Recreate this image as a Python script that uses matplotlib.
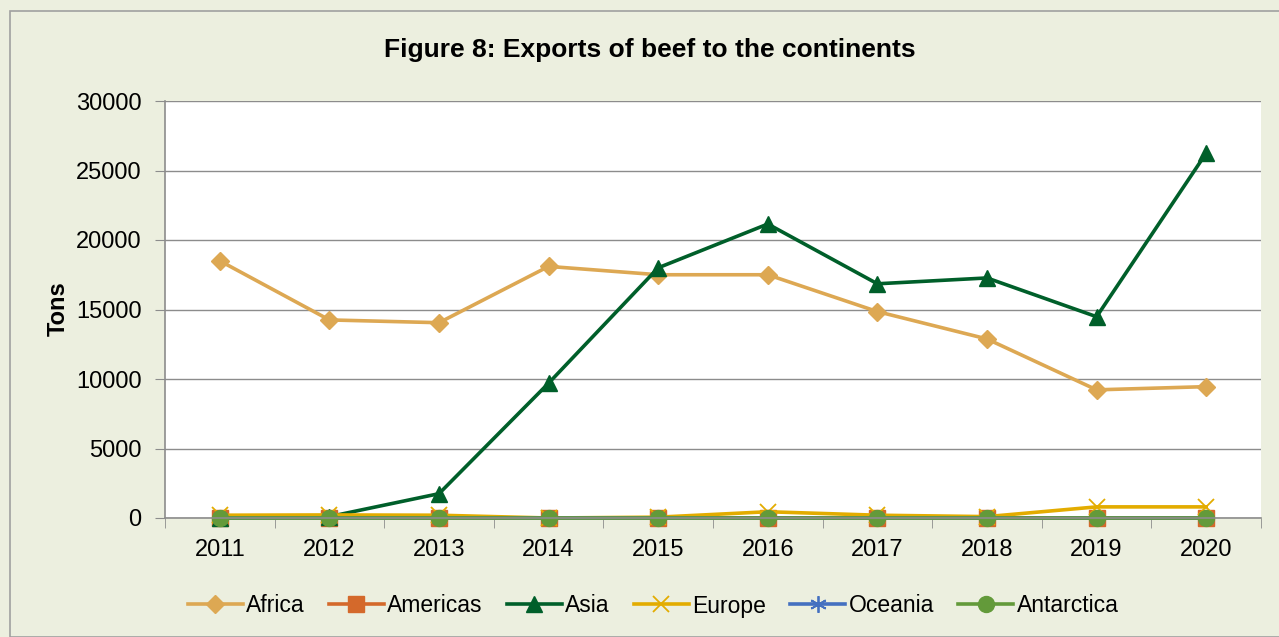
import matplotlib.pyplot as plt
from matplotlib.patches import Rectangle

plt.rcParams['font.family'] = ['Liberation Sans', 'DejaVu Sans']

years = ['2011', '2012', '2013', '2014', '2015', '2016', '2017', '2018', '2019', '2020']
africa = [18500, 14250, 14050, 18100, 17500, 17500, 14850, 12880, 9220, 9450]
americas = [0, 0, 0, 0, 0, 0, 0, 0, 0, 0]
asia = [0, 100, 1750, 9700, 18000, 21150, 16850, 17270, 14480, 26250]
europe = [200, 220, 200, 0, 60, 450, 200, 100, 800, 800]
oceania = [0, 0, 0, 0, 0, 0, 0, 0, 0, 0]
antarctica = [0, 0, 0, 0, 0, 0, 0, 0, 0, 0]

bg = '#ECEFDF'
fig = plt.figure(figsize=(12.79, 6.37), dpi=100)
fig.patch.set_facecolor(bg)
# outer chart border
fig.patches.append(Rectangle((10 / 1279, 0), 1.0, 1 - 11 / 637, transform=fig.transFigure,
                             fill=False, edgecolor='#A0A0A0', linewidth=1.2))

ax = fig.add_axes([165 / 1279, 1 - 518 / 637, (1261 - 165) / 1279, (518 - 101) / 637])
ax.set_facecolor('white')

x = list(range(len(years)))
series = [
    ('Africa', africa, '#DDA853', dict(marker='D', markersize=9)),
    ('Americas', americas, '#D4692B', dict(marker='s', markersize=12)),
    ('Asia', asia, '#005F2A', dict(marker='^', markersize=12)),
    ('Europe', europe, '#E3AC00', dict(marker='x', markersize=11, markeredgewidth=1.3)),
    ('Oceania', oceania, '#4470C0', dict(marker=(6, 2, 0), markersize=12, markeredgewidth=1.3)),
    ('Antarctica', antarctica, '#639A3A', dict(marker='o', markersize=11.5)),
]
for name, vals, col, mk in series:
    ax.plot(x, vals, color=col, linewidth=2.6, label=name, clip_on=False, **mk)

ax.set_xlim(-0.5, 9.5)
ax.set_ylim(0, 30000)
ax.set_yticks(range(0, 30001, 5000))
ax.yaxis.grid(True, color='#8C8C8C', linewidth=1)
ax.set_axisbelow(True)
ax.set_xticks(x)
ax.set_xticklabels(years)
ax.set_xticks([i - 0.5 for i in range(11)], minor=True)
ax.tick_params(axis='x', which='major', length=0, pad=15, labelsize=17)
ax.tick_params(axis='x', which='minor', length=7, color='#8C8C8C', direction='out')
ax.tick_params(axis='y', length=7, color='#8C8C8C', pad=10, labelsize=17)
for s in ['top', 'right']:
    ax.spines[s].set_visible(False)
for s in ['left', 'bottom']:
    ax.spines[s].set_color('#8C8C8C')
    ax.spines[s].set_linewidth(1.2)

fig.text(58 / 1279, 1 - 309 / 637, 'Tons', rotation=90, ha='center', va='center',
         fontsize=17, fontweight='bold')
fig.text(650 / 1279, 1 - 50 / 637, 'Figure 8: Exports of beef to the continents',
         ha='center', va='center', fontsize=19, fontweight='bold')

fig.legend(loc='center', bbox_to_anchor=(653 / 1279, 1 - 606 / 637), ncol=6, frameon=False,
           fontsize=16.5, handlelength=2.4, columnspacing=1.05, handletextpad=0.15)

fig.savefig('out.png', dpi=100, facecolor=bg)
